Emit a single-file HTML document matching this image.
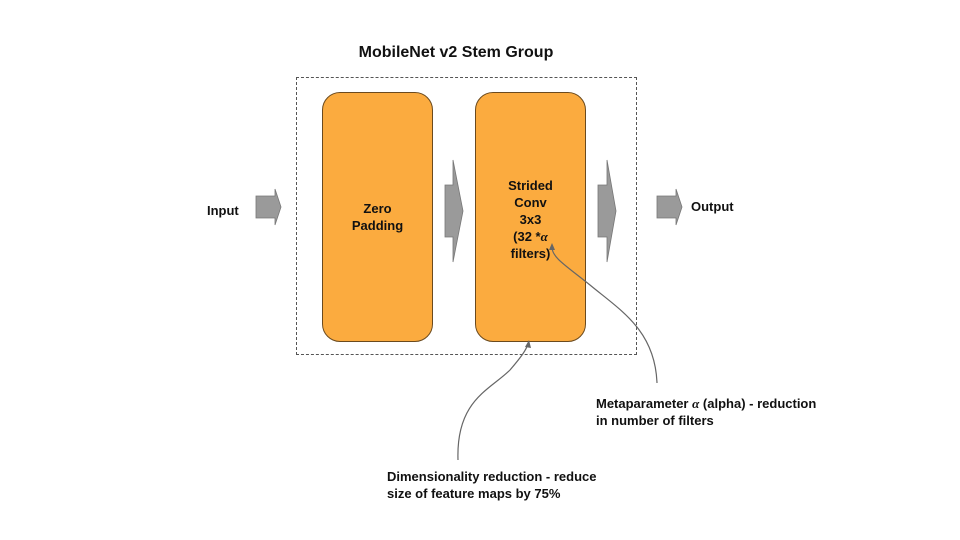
<!DOCTYPE html>
<html><head><style>
body{margin:0;width:960px;height:540px;background:#fff;overflow:hidden;position:relative;font-family:"Liberation Sans",sans-serif;font-weight:bold;color:#111}
.t{position:absolute;font-size:13px;line-height:17px}
.box{position:absolute;background:#fbab3f;border:1px solid #6b4a1e;border-radius:18px;box-sizing:border-box}
</style></head><body>
<div class="t" style="left:300px;top:44px;width:312px;text-align:center;font-size:16px">MobileNet v2 Stem Group</div>
<div style="position:absolute;left:296px;top:77px;width:341px;height:278px;border:1px dashed #555;box-sizing:border-box"></div>
<div class="box" style="left:322px;top:92px;width:111px;height:250px"></div>
<div class="box" style="left:475px;top:92px;width:111px;height:250px"></div>
<div class="t" style="left:322px;top:200px;width:111px;text-align:center">Zero<br>Padding</div>
<div class="t" style="left:475px;top:177px;width:111px;text-align:center">Strided<br>Conv<br>3x3<br>(32 *<i style="font-family:'Liberation Serif',serif">α</i><br>filters)</div>
<div class="t" style="left:207px;top:202px">Input</div>
<div class="t" style="left:691px;top:198px">Output</div>
<div class="t" style="left:596px;top:395px">Metaparameter <i style="font-family:'Liberation Serif',serif">α</i> (alpha) - reduction<br>in number of filters</div>
<div class="t" style="left:387px;top:468px">Dimensionality reduction - reduce<br>size of feature maps by 75%</div>
<svg width="960" height="540" style="position:absolute;left:0;top:0">
<g fill="#9a9a9a" stroke="#777" stroke-width="0.8">
<polygon points="256,196 275,196 275,189 281,207 275,225 275,218 256,218"/>
<polygon points="445,185 453,185 453,160 463,211 453,262 453,237 445,237"/>
<polygon points="598,185 607,185 607,160 616,211 607,262 607,237 598,237"/>
<polygon points="657,196 676,196 676,189 682,207 676,225 676,218 657,218"/>
</g>
<g fill="none" stroke="#666" stroke-width="1.2">
<path d="M657,383 C655,330 620,310 590,285 C565,265 553,258 552,248"/>
<path d="M458,460 C456,400 490,390 510,370 C522,356 526,350 528,344"/>
</g>
<g fill="#666">
<polygon points="552,243 549,250 555,250"/>
<polygon points="529,340 525,347 531,348"/>
</g>
</svg>
</body></html>
